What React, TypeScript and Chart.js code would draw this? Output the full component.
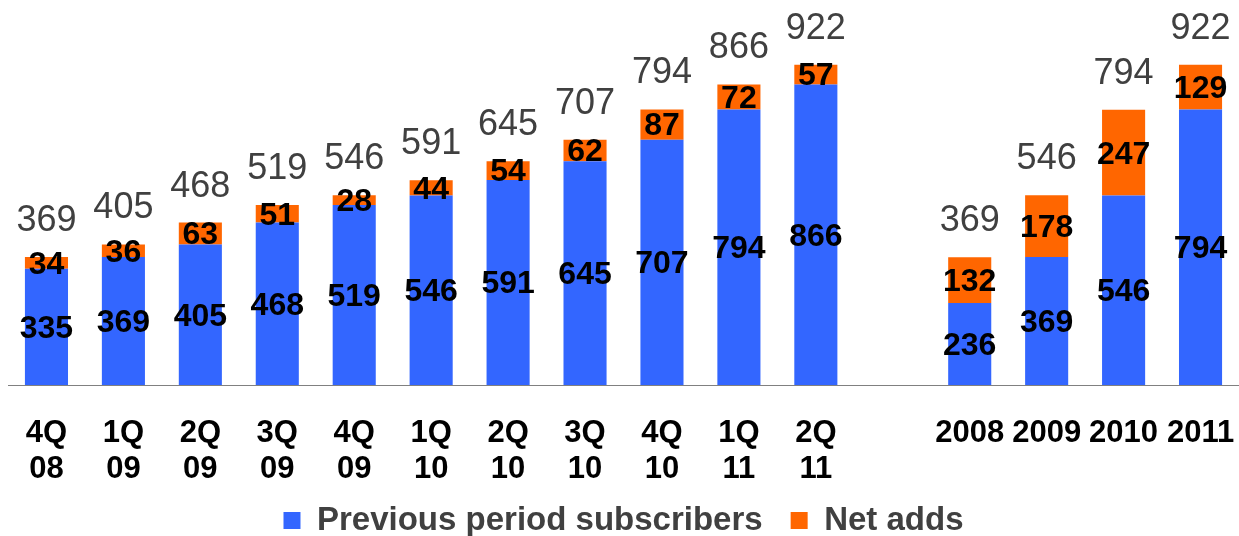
import React, { useEffect, useRef } from 'react';
import { Chart, registerables } from 'chart.js';

Chart.register(...registerables);

const categories: string[][] = [
  ['4Q', '08'], ['1Q', '09'], ['2Q', '09'], ['3Q', '09'], ['4Q', '09'], ['1Q', '10'],
  ['2Q', '10'], ['3Q', '10'], ['4Q', '10'], ['1Q', '11'], ['2Q', '11'], [''],
  ['2008'], ['2009'], ['2010'], ['2011'],
];
const previousSubscribers: (number | null)[] = [335, 369, 405, 468, 519, 546, 591, 645, 707, 794, 866, null, 236, 369, 546, 794];
const netAdds: (number | null)[] = [34, 36, 63, 51, 28, 44, 54, 62, 87, 72, 57, null, 132, 178, 247, 129];
const totals: (number | null)[] = [369, 405, 468, 519, 546, 591, 645, 707, 794, 866, 922, null, 369, 546, 794, 922];

const FONT = '"Liberation Sans", Arial, Helvetica, sans-serif';

const labelsPlugin = {
  id: 'barLabels',
  afterLayout(chart: any) {
    // let the two-line tick labels extend below the axis box (avoid clipping)
    const xs = chart.scales.x;
    if (xs) xs.bottom = chart.height;
  },
  afterDatasetsDraw(chart: any) {
    const ctx = chart.ctx;
    ctx.save();
    ctx.textAlign = 'center';
    chart.data.datasets.forEach((ds: any, di: number) => {
      const meta = chart.getDatasetMeta(di);
      meta.data.forEach((bar: any, i: number) => {
        const v = ds.data[i];
        if (v == null) return;
        const { x, y, base } = bar.getProps(['x', 'y', 'base'], true);
        ctx.font = `bold 32px ${FONT}`;
        ctx.fillStyle = '#000000';
        ctx.textBaseline = 'middle';
        ctx.fillText(String(v), x, (y + base) / 2 + 2);
      });
    });
    const topMeta = chart.getDatasetMeta(chart.data.datasets.length - 1);
    topMeta.data.forEach((bar: any, i: number) => {
      const t = totals[i];
      if (t == null) return;
      const { x, y } = bar.getProps(['x', 'y'], true);
      ctx.font = `36px ${FONT}`;
      ctx.fillStyle = '#404040';
      ctx.textBaseline = 'alphabetic';
      ctx.fillText(String(t), x, y - 26);
    });
    ctx.restore();
  },
};

export default function App() {
  const canvasRef = useRef<HTMLCanvasElement | null>(null);

  useEffect(() => {
    if (!canvasRef.current) return;
    const chart = new Chart(canvasRef.current, {
      type: 'bar',
      data: {
        labels: categories,
        datasets: [
          {
            label: 'Previous period subscribers',
            data: previousSubscribers,
            backgroundColor: '#3366FF',
            borderWidth: 0,
            categoryPercentage: 1,
            barPercentage: 0.56,
          },
          {
            label: 'Net adds',
            data: netAdds,
            backgroundColor: '#FF6600',
            borderWidth: 0,
            categoryPercentage: 1,
            barPercentage: 0.56,
          },
        ],
      },
      options: {
        responsive: false,
        maintainAspectRatio: false,
        animation: false,
        devicePixelRatio: 1,
        layout: { padding: { left: 8, right: 0, top: 38, bottom: 0 } },
        plugins: {
          tooltip: { enabled: false },
          legend: {
            position: 'bottom',
            labels: {
              boxWidth: 17,
              boxHeight: 17,
              padding: 28,
              color: '#404040',
              font: { family: FONT, size: 33, weight: 'bold' },
            },
          },
        },
        scales: {
          x: {
            stacked: true,
            grid: { display: false, drawTicks: false },
            border: { display: true, color: '#808080', width: 1 },
            ticks: {
              autoSkip: false,
              maxRotation: 0,
              minRotation: 0,
              padding: 30,
              color: '#000000',
              font: { family: FONT, size: 31, weight: 'bold', lineHeight: '36px' },
            },
            afterFit: (scale: any) => {
              scale.height = 91;
              scale.paddingLeft = 0;
              scale.paddingRight = 0;
            },
          },
          y: {
            stacked: true,
            display: false,
            min: 0,
            max: 1000,
          },
        },
      },
      plugins: [labelsPlugin],
    } as any);
    return () => chart.destroy();
  }, []);

  return (
    <div style={{ position: 'fixed', left: 0, top: 0, width: 1239, height: 536, overflow: 'hidden', background: '#ffffff' }}>
      <canvas ref={canvasRef} width={1239} height={547} style={{ width: 1239, height: 547, display: 'block' }} />
    </div>
  );
}
